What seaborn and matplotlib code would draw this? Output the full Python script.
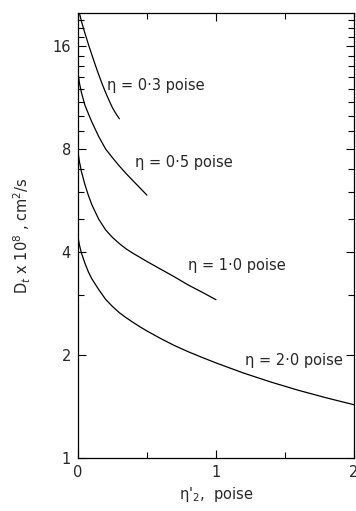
import numpy as np
import pandas as pd
import matplotlib
matplotlib.use("Agg")
import matplotlib.pyplot as plt
import seaborn as sns
from matplotlib.ticker import FixedLocator, NullFormatter

# --- data ---
x_03 = [0.0, 0.01, 0.025, 0.05, 0.075, 0.10, 0.125, 0.15, 0.175, 0.20, 0.225, 0.25, 0.275, 0.30]
y_03 = [21.0, 20.0, 18.9, 17.45, 16.2, 15.1, 14.1, 13.2, 12.4, 11.7, 11.1, 10.55, 10.15, 9.8]

x_05 = [0.0, 0.01, 0.025, 0.05, 0.075, 0.10, 0.15, 0.20, 0.25, 0.30, 0.35, 0.40, 0.45, 0.50]
y_05 = [13.4, 12.5, 11.7, 10.75, 10.15, 9.6, 8.7, 8.0, 7.54, 7.13, 6.77, 6.45, 6.15, 5.86]

x_10 = [0.0, 0.01, 0.025, 0.05, 0.075, 0.10, 0.15, 0.20, 0.25, 0.30, 0.35, 0.40, 0.50, 0.60, 0.70, 0.80, 0.90, 1.00]
y_10 = [7.85, 7.36, 6.87, 6.30, 5.86, 5.50, 4.99, 4.64, 4.41, 4.23, 4.08, 3.96, 3.75, 3.56, 3.38, 3.20, 3.05, 2.90]

x_20 = [0.0, 0.01, 0.025, 0.05, 0.075, 0.10, 0.15, 0.20, 0.25, 0.30, 0.35, 0.40, 0.45, 0.50,
        0.60, 0.70, 0.80, 0.90, 1.00, 1.20, 1.40, 1.60, 1.80, 2.00]
y_20 = [4.43, 4.2, 3.97, 3.71, 3.50, 3.34, 3.106, 2.908, 2.77, 2.657, 2.567, 2.488, 2.415, 2.349,
        2.232, 2.129, 2.042, 1.966, 1.895, 1.77, 1.665, 1.575, 1.498, 1.43]

labels = ["η = 0·3 poise", "η = 0·5 poise", "η = 1·0 poise", "η = 2·0 poise"]
label_x = [0.21, 0.415, 0.80, 1.21]
label_y = [12.3, 7.28, 3.64, 1.93]

x_ticks = [0, 1, 2]
x_minor = [0.5, 1.5]
y_ticks = [1, 2, 4, 8, 16]
y_minor = [3, 5, 6, 7, 9, 10, 11, 12, 13, 14, 15, 17, 18, 19]

sns.set_style("ticks")
plt.rcParams['font.family'] = ['DejaVu Sans']

fig = plt.figure(figsize=(3.56, 5.11), dpi=100)
ax = fig.add_axes([0.219, 0.104, 0.775, 0.871])

for xs, ys in [(x_03, y_03), (x_05, y_05), (x_10, y_10), (x_20, y_20)]:
    df = pd.DataFrame({"x": xs, "y": ys})
    sns.lineplot(data=df, x="x", y="y", ax=ax, color="black", linewidth=0.9,
                 estimator=None, sort=False)

ax.set_yscale("log")
ax.set_xlim(0, 2)
ax.set_ylim(1, 20)

ax.xaxis.set_major_locator(FixedLocator(x_ticks))
ax.xaxis.set_minor_locator(FixedLocator(x_minor))
ax.set_xticklabels([str(t) for t in x_ticks])
ax.yaxis.set_major_locator(FixedLocator(y_ticks))
ax.yaxis.set_minor_locator(FixedLocator(y_minor))
ax.set_yticklabels([str(t) for t in y_ticks])
ax.yaxis.set_minor_formatter(NullFormatter())

ax.tick_params(which="both", direction="in", top=True, right=True,
               color="black", width=0.8, labelsize=10.5, pad=5)
ax.tick_params(which="major", length=6)
ax.tick_params(which="minor", length=4)
for s in ax.spines.values():
    s.set_color("black")
    s.set_linewidth(0.9)

for t, lx, ly in zip(labels, label_x, label_y):
    ax.text(lx, ly, t, ha="left", va="center", fontsize=10.5)

ax.set_xlabel("η$'_2$,  poise", fontsize=10.5, labelpad=4)
ax.set_ylabel("D$_t$ x 10$^8$ , cm$^2$/s", fontsize=10.5, labelpad=14)

fig.savefig("out.png", dpi=100)
